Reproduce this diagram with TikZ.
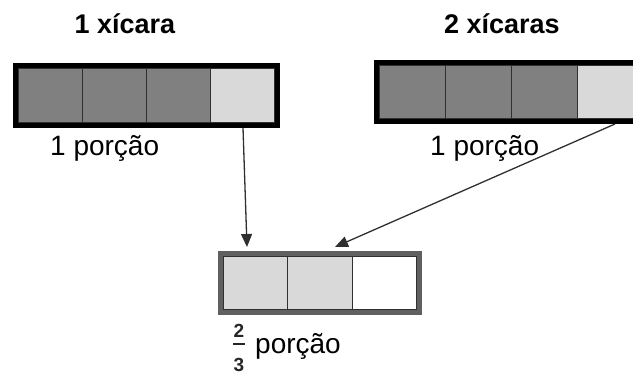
\documentclass[tikz,border=0pt]{standalone}
\usepackage{fontspec}
\setmainfont{Liberation Sans}
\usetikzlibrary{arrows.meta}
\definecolor{darkcell}{HTML}{808080}
\definecolor{lightcell}{HTML}{D9D9D9}
\definecolor{frameGray}{HTML}{606060}
\definecolor{lineGray}{HTML}{303030}
\begin{document}
\begin{tikzpicture}[x=1pt,y=-1pt,
  cellbox/.style={draw=lineGray, line width=1.3pt, anchor=north west, inner sep=0pt, outer sep=0pt},
  frame/.style={line width=5pt},
  title/.style={font=\fontsize{27}{30}\selectfont\bfseries, anchor=base, inner sep=0pt},
  label/.style={font=\fontsize{28}{30}\selectfont, anchor=base west, inner sep=0pt},
  fracnum/.style={font=\fontsize{19}{20}\selectfont\bfseries, anchor=base, inner sep=0pt, text=black!85},
  link/.style={draw=lineGray, line width=1.3pt, -{Triangle[length=13pt,width=11pt]}}
]
\clip (0,0) rectangle (633,372);
\fill[white] (0,0) rectangle (633,372);

% titles
\node[title] (t1) at (125,33) {1 xícara};
\node[title] (t2) at (502,33) {2 xícaras};

% first bar: three dark quarters and one light quarter
\foreach \i/\c in {0/darkcell,1/darkcell,2/darkcell,3/lightcell}{
  \node[cellbox, fill=\c, minimum width=64.25pt, minimum height=55pt]
    (a\i) at ({18+64.25*\i},68) {};
}
\draw[frame] (15.5,65.5) rectangle (277.5,125.5);

% second bar
\foreach \i/\c in {0/darkcell,1/darkcell,2/darkcell,3/lightcell}{
  \node[cellbox, fill=\c, minimum width=66.25pt, minimum height=54pt]
    (b\i) at ({379+66.25*\i},65) {};
}
\draw[frame] (376.5,62.5) rectangle (646.5,121.5);

\node[label] (p1) at (50,155) {1 porção};
\node[label] (p2) at (430,155) {1 porção};

% result bar: two of three thirds
\foreach \i/\c in {0/lightcell,1/lightcell,2/white}{
  \node[cellbox, fill=\c, minimum width=64.67pt, minimum height=54pt]
    (c\i) at ({223+64.67*\i},256) {};
}
\draw[frame, draw=frameGray] (220.5,253.5) rectangle (419.5,312.5);

% fraction label
\node[fracnum] (n2) at (239,337) {2};
\node[fracnum] (n3) at (239,371) {3};
\draw[line width=1.4pt, black!85] (233,344) -- (245,344);
\node[label] (p3) at (255,353) {porção};

% connectors
\coordinate (s1) at (243,128);
\coordinate (e1) at (247,247);
\coordinate (s2) at (615,124);
\coordinate (e2) at (335,247);
\draw[link] (s1) -- (e1);
\draw[link] (s2) -- (e2);
\end{tikzpicture}
\end{document}
